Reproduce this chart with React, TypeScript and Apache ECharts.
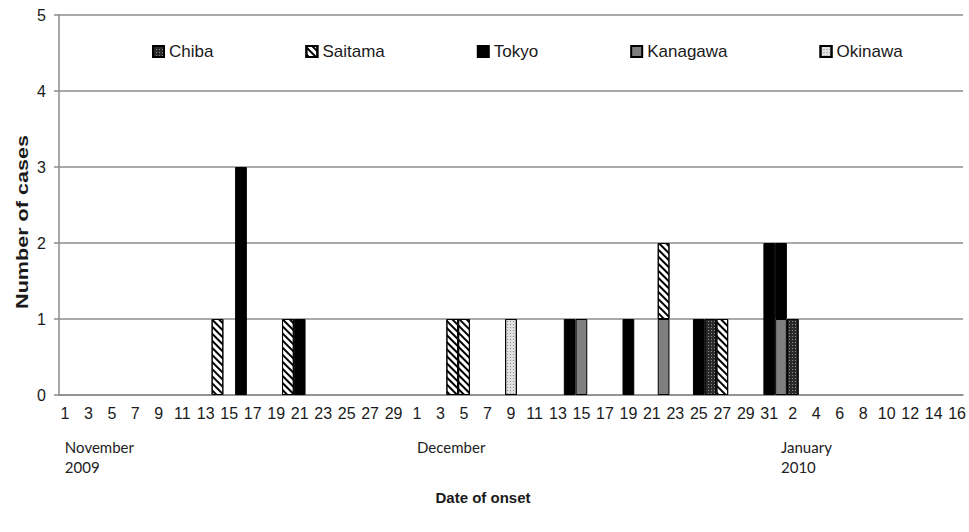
import React, { useEffect, useRef } from "react";
import * as echarts from "echarts";

// ---- data ----
const monthKeys = ["2009-11", "2009-12", "2010-01"];
const monthLengths = [30, 31, 16];
const monthLabels = ["November\n2009", "December", "January\n2010"];

const seriesNames = ["Chiba", "Saitama", "Tokyo", "Kanagawa", "Okinawa"];

const chibaCases: [string, number][] = [
  ["2009-12-26", 1],
  ["2010-01-02", 1],
];
const saitamaCases: [string, number][] = [
  ["2009-11-14", 1],
  ["2009-11-20", 1],
  ["2009-12-04", 1],
  ["2009-12-05", 1],
  ["2009-12-22", 1],
  ["2009-12-27", 1],
];
const tokyoCases: [string, number][] = [
  ["2009-11-16", 3],
  ["2009-11-21", 1],
  ["2009-12-14", 1],
  ["2009-12-19", 1],
  ["2009-12-25", 1],
  ["2009-12-31", 2],
  ["2010-01-01", 1],
];
const kanagawaCases: [string, number][] = [
  ["2009-12-15", 1],
  ["2009-12-22", 1],
  ["2010-01-01", 1],
];
const okinawaCases: [string, number][] = [["2009-12-09", 1]];

const yTicks = { min: 0, max: 5, interval: 1 };

// ---- helpers ----
const pad = (n: number) => (n < 10 ? "0" + n : String(n));
const categories: string[] = [];
const monthStarts: string[] = [];
monthKeys.forEach((k, i) => {
  for (let d = 1; d <= monthLengths[i]; d++) {
    const key = `${k}-${pad(d)}`;
    if (d === 1) monthStarts.push(key);
    categories.push(key);
  }
});
const toSeries = (cases: [string, number][]) => {
  const m = new Map(cases);
  return categories.map((c) => (m.has(c) ? m.get(c)! : "-"));
};

const FONT = "'Liberation Sans', Arial, sans-serif";
const GRID = "#8c8c8c";
const TEXT = "#1a1a1a";

export default function App() {
  const ref = useRef<HTMLDivElement>(null);
  useEffect(() => {
    document.body.style.margin = "0";
    const chart = echarts.init(ref.current!, null, { renderer: "svg" });
    const border = { borderColor: "#000", borderWidth: 1 };
    const styles: Record<string, any> = {
      Chiba: {
        color: "#2a2a2a",
        ...border,
        decal: {
          symbol: "rect",
          symbolSize: 1,
          color: "#8a8a8a",
          dashArrayX: [1, 1.5],
          dashArrayY: [1, 1.5],
        },
      },
      Saitama: {
        color: "#ffffff",
        ...border,
        decal: {
          symbol: "rect",
          symbolSize: 1,
          color: "#000000",
          dashArrayX: [1, 0],
          dashArrayY: [1.6, 2.2],
          rotation: Math.PI / 4,
        },
      },
      Tokyo: { color: "#000000", ...border },
      Kanagawa: { color: "#7f7f7f", ...border },
      Okinawa: {
        color: "#e0e0e0",
        ...border,
        decal: {
          symbol: "rect",
          symbolSize: 1,
          color: "#8f8f8f",
          dashArrayX: [1, 1.5],
          dashArrayY: [1, 1.5],
        },
      },
    };
    const dataMap: Record<string, [string, number][]> = {
      Chiba: chibaCases,
      Saitama: saitamaCases,
      Tokyo: tokyoCases,
      Kanagawa: kanagawaCases,
      Okinawa: okinawaCases,
    };
    // stacking order, bottom to top
    const stackOrder = ["Kanagawa", "Chiba", "Saitama", "Tokyo", "Okinawa"];

    chart.setOption({
      animation: false,
      grid: { left: 59, right: 6, top: 15, bottom: 137, containLabel: false },
      legend: {
        data: seriesNames,
        left: 152,
        top: 43,
        padding: 0,
        icon: "rect",
        itemWidth: 11,
        itemHeight: 11,
        itemGap: 92,
        textStyle: { fontFamily: FONT, fontSize: 17, color: TEXT },
      },
      xAxis: [
        {
          type: "category",
          data: categories,
          boundaryGap: true,
          axisLine: { lineStyle: { color: GRID, width: 1.5 } },
          axisTick: {
            interval: 1,
            length: 5,
            lineStyle: { color: GRID, width: 1.5 },
          },
          axisLabel: {
            interval: 1,
            margin: 10,
            fontFamily: FONT,
            fontSize: 16,
            color: TEXT,
            formatter: (v: string) => String(parseInt(v.slice(8), 10)),
          },
          splitLine: { show: false },
        },
        {
          type: "category",
          data: categories,
          position: "bottom",
          offset: 34,
          axisLine: { show: false },
          axisTick: { show: false },
          axisLabel: {
            interval: (_i: number, v: string) => monthStarts.indexOf(v) >= 0,
            margin: 8,
            align: "left",
            fontFamily: "Lato, 'Open Sans', sans-serif",
            fontSize: 15,
            lineHeight: 20,
            color: "#222222",
            formatter: (v: string) => {
              const i = monthStarts.indexOf(v);
              return i >= 0 ? monthLabels[i] : "";
            },
          },
        },
      ],
      yAxis: {
        type: "value",
        min: yTicks.min,
        max: yTicks.max,
        interval: yTicks.interval,
        axisLine: { show: true, lineStyle: { color: GRID, width: 1.5 } },
        axisTick: { show: true, length: 5, lineStyle: { color: GRID, width: 1.5 } },
        axisLabel: { margin: 13, fontFamily: FONT, fontSize: 16, color: TEXT },
        splitLine: { lineStyle: { color: GRID, width: 1.5 } },
      },
      graphic: [
        {
          type: "text",
          x: 22,
          y: 222,
          rotation: Math.PI / 2,
          scaleX: 1.27,
          style: {
            text: "Number of cases",
            font: `bold 17px ${FONT}`,
            fill: TEXT,
            textAlign: "center",
            textVerticalAlign: "middle",
          },
        },
        {
          type: "text",
          x: 483,
          y: 497,
          style: {
            text: "Date of onset",
            font: `bold 15px ${FONT}`,
            fill: TEXT,
            textAlign: "center",
            textVerticalAlign: "middle",
          },
        },
      ],
      series: stackOrder.map((name) => ({
        name,
        type: "bar",
        stack: "cases",
        xAxisIndex: 0,
        barCategoryGap: "0%",
        itemStyle: styles[name],
        emphasis: { disabled: true },
        data: toSeries(dataMap[name]),
      })),
    });
    return () => chart.dispose();
  }, []);
  return <div ref={ref} style={{ width: 969, height: 532 }} />;
}
